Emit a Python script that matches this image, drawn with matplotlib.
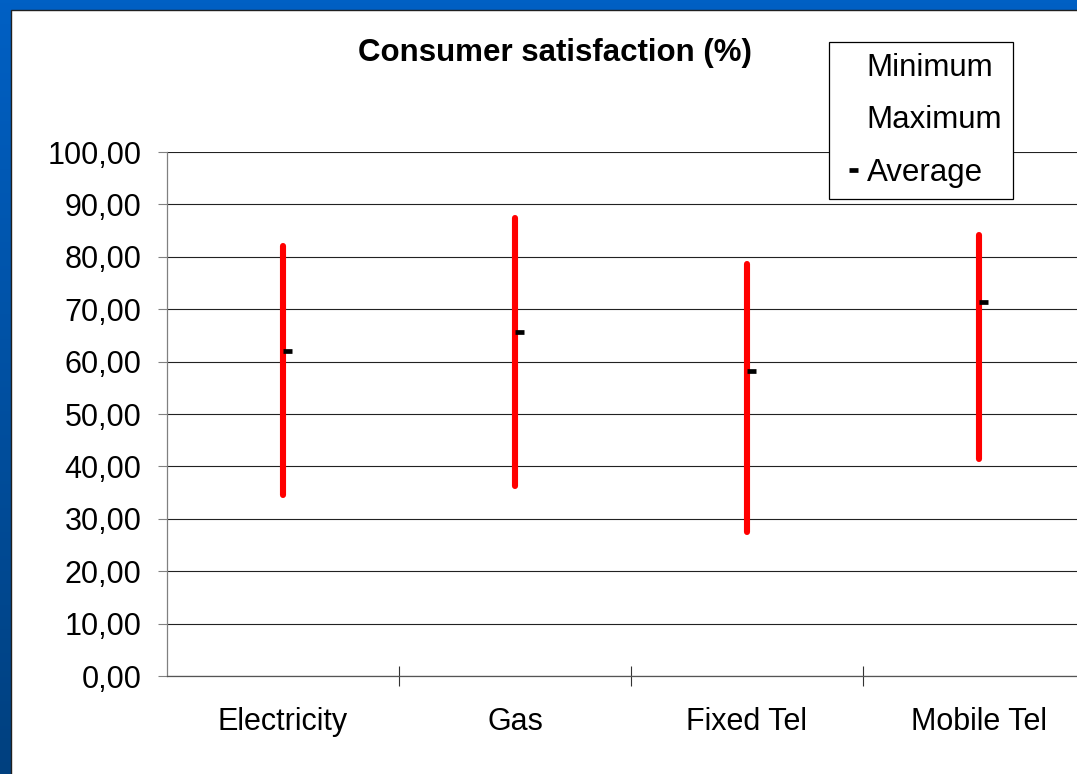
import numpy as np
import matplotlib
matplotlib.use("Agg")
import matplotlib.pyplot as plt
from matplotlib.lines import Line2D
from matplotlib.path import Path
from matplotlib.patches import Rectangle

categories = ["Electricity", "Gas", "Fixed Tel", "Mobile Tel"]
minimum = [34.5, 36.3, 27.5, 41.4]
maximum = [82.0, 87.5, 78.6, 84.2]
average = [62.0, 65.6, 58.2, 71.4]
y_ticks = [0, 10, 20, 30, 40, 50, 60, 70, 80, 90, 100]

plt.rcParams["font.family"] = ["Liberation Sans", "DejaVu Sans"]

W, H = 1077, 774
fig = plt.figure(figsize=(W / 100, H / 100), dpi=100)

# blue slide background with gradient
bg = fig.add_axes([0, 0, 1, 1], zorder=-10)
grad = np.linspace(0, 1, 256).reshape(-1, 1)
cmap = matplotlib.colors.LinearSegmentedColormap.from_list("b", ["#0060c4", "#00407f"])
bg.imshow(grad, aspect="auto", cmap=cmap, extent=[0, 1, 0, 1], origin="upper")
bg.add_patch(Rectangle((11 / W, -0.01), 1.0, (H - 10) / H + 0.01, facecolor="white",
                       edgecolor="#202020", linewidth=1.0, transform=bg.transAxes))
bg.set_xlim(0, 1)
bg.set_ylim(0, 1)
bg.axis("off")

left, right, bottom, top = 167, 1095, 676, 152
ax = fig.add_axes([left / W, 1 - bottom / H, (right - left) / W, (bottom - top) / H])
ax.set_facecolor("none")

x = np.arange(len(categories))
vl = ax.vlines(x, minimum, maximum, colors="#ff0000", linewidth=4.4, zorder=3)
vl.set_capstyle("round")

dash = Path([(0, 0), (1, 0)], [Path.MOVETO, Path.LINETO])
ax.plot(x, average, linestyle="none", marker=dash, markersize=13,
        markeredgewidth=3.4, color="black", zorder=4)

ax.set_xlim(-0.5, 3.5)
ax.set_ylim(0, 100)
ax.set_yticks(y_ticks)
ax.set_yticklabels([f"{v:.2f}".replace(".", ",") for v in y_ticks], fontsize=22)
ax.yaxis.grid(True, color="#222222", linewidth=0.8)
ax.set_axisbelow(True)

ax.set_xticks(x)
ax.set_xticklabels(categories, fontsize=22)
ax.set_xticks([0.5, 1.5, 2.5], minor=True)
ax.tick_params(axis="x", which="major", length=0, pad=22)
ax.tick_params(axis="x", which="minor", direction="inout", length=15, width=0.8, color="#333333")
ax.tick_params(axis="y", direction="out", length=6.5, width=0.8, color="#808080", pad=12)

for s in ["top", "right"]:
    ax.spines[s].set_visible(False)
ax.spines["left"].set_color("#808080")
ax.spines["bottom"].set_color("#555555")
ax.spines["left"].set_linewidth(0.9)
ax.spines["bottom"].set_linewidth(0.9)

fig.text(555 / W, 1 - 53 / H, "Consumer satisfaction (%)", fontsize=22.5,
         fontweight="bold", ha="center", va="center")

handles = [Line2D([], [], linestyle="none"),
           Line2D([], [], linestyle="none"),
           Line2D([], [], linestyle="none", marker=dash, markersize=13,
                  markeredgewidth=3.4, color="black")]
leg = fig.legend(handles, ["Minimum", "Maximum", "Average"], loc="upper left",
                 bbox_to_anchor=(829 / W, 1 - 42 / H), fontsize=22.5, frameon=True,
                 fancybox=False, edgecolor="black", framealpha=1, handlelength=0.6,
                 handletextpad=0.25, labelspacing=0.72, borderpad=0.35, borderaxespad=0)
leg.get_frame().set_linewidth(0.9)

fig.savefig("out.png", dpi=100)
